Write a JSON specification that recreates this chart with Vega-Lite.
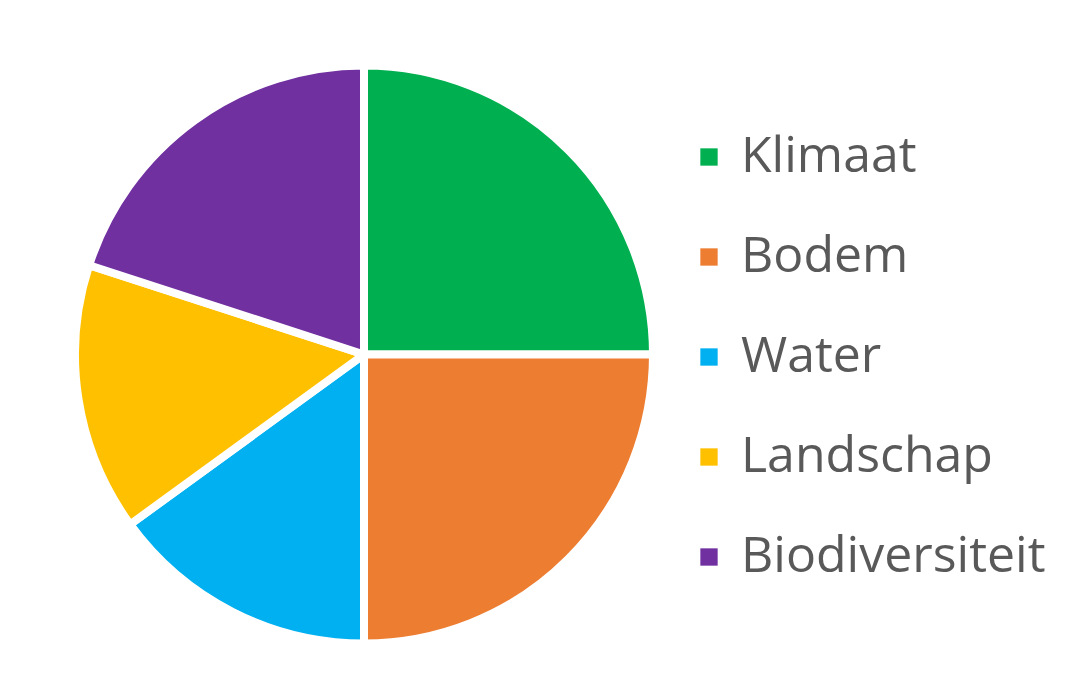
{
  "$schema": "https://vega.github.io/schema/vega-lite/v6.json",
  "width": 728,
  "height": 697,
  "autosize": {"type": "none"},
  "padding": {"left": 0, "top": 6, "right": 342, "bottom": -6},
  "background": "white",
  "view": {"stroke": null},
  "data": {
    "values": [
      {"topic": "Klimaat", "share": 25, "rank": 1},
      {"topic": "Bodem", "share": 25, "rank": 2},
      {"topic": "Water", "share": 15, "rank": 3},
      {"topic": "Landschap", "share": 15, "rank": 4},
      {"topic": "Biodiversiteit", "share": 20, "rank": 5}
    ]
  },
  "mark": {"type": "arc", "outerRadius": 289, "stroke": "white", "strokeWidth": 8},
  "encoding": {
    "theta": {"field": "share", "type": "quantitative", "stack": true},
    "order": {"field": "rank", "type": "quantitative"},
    "color": {
      "field": "topic",
      "type": "nominal",
      "sort": ["Klimaat", "Bodem", "Water", "Landschap", "Biodiversiteit"],
      "scale": {
        "domain": ["Klimaat", "Bodem", "Water", "Landschap", "Biodiversiteit"],
        "range": ["#00B050", "#ED7D31", "#00B0F0", "#FFC000", "#7030A0"]
      },
      "legend": {
        "title": null,
        "orient": "none",
        "legendX": 684,
        "legendY": 126,
        "symbolType": "square",
        "symbolSize": 300,
        "symbolStrokeWidth": 0,
        "labelFont": "Open Sans",
        "labelFontSize": 50,
        "labelColor": "#595959",
        "labelOffset": 7,
        "rowPadding": 50,
        "labelLimit": 400
      }
    }
  }
}
